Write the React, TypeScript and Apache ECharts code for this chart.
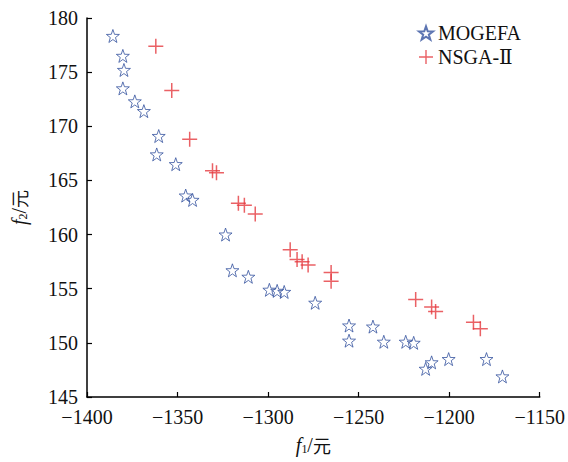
import React, { useEffect, useRef } from "react";
import * as echarts from "echarts";

const xTicks = [-1400, -1350, -1300, -1250, -1200, -1150];
const yTicks = [145, 150, 155, 160, 165, 170, 175, 180];

const mogefa: [number, number][] = [
  [-1385.7, 178.34],
  [-1380.2, 176.5],
  [-1379.6, 175.2],
  [-1380.2, 173.5],
  [-1373.6, 172.3],
  [-1368.6, 171.4],
  [-1360.4, 169.1],
  [-1361.5, 167.4],
  [-1351.0, 166.5],
  [-1345.5, 163.6],
  [-1341.7, 163.2],
  [-1323.5, 160.0],
  [-1319.7, 156.7],
  [-1310.9, 156.1],
  [-1299.3, 154.9],
  [-1295.0, 154.8],
  [-1291.1, 154.7],
  [-1274.0, 153.7],
  [-1255.3, 151.6],
  [-1255.3, 150.2],
  [-1242.1, 151.5],
  [-1236.1, 150.1],
  [-1224.0, 150.1],
  [-1219.6, 150.0],
  [-1209.7, 148.2],
  [-1213.0, 147.6],
  [-1200.3, 148.5],
  [-1179.4, 148.5],
  [-1170.6, 146.9],
];

const nsga: [number, number][] = [
  [-1362.0, 177.4],
  [-1353.2, 173.3],
  [-1343.3, 168.8],
  [-1330.7, 165.9],
  [-1328.5, 165.7],
  [-1316.4, 162.9],
  [-1313.1, 162.7],
  [-1307.1, 161.9],
  [-1287.8, 158.6],
  [-1284.0, 157.7],
  [-1281.2, 157.5],
  [-1277.9, 157.2],
  [-1265.2, 156.5],
  [-1265.2, 155.7],
  [-1218.5, 154.0],
  [-1209.7, 153.3],
  [-1207.5, 152.9],
  [-1186.6, 151.9],
  [-1182.8, 151.3],
];

const STAR =
  "path://M0,-10 L2.35,-3.24 L9.51,-3.09 L3.8,1.24 L5.88,8.09 L0,4 L-5.88,8.09 L-3.8,1.24 L-9.51,-3.09 L-2.35,-3.24 Z";
const PLUS =
  "path://M-1,-10 L1,-10 L1,-1 L10,-1 L10,1 L1,1 L1,10 L-1,10 L-1,1 L-10,1 L-10,-1 L-1,-1 Z";

const SERIF = "'Liberation Serif', 'DejaVu Serif', 'Times New Roman', serif";
const CJK = "'Noto Sans CJK SC', sans-serif";

const fmt = (v: number) => String(v).replace("-", "\u2212");

export default function App() {
  const ref = useRef<HTMLDivElement>(null);
  useEffect(() => {
    if (!ref.current) return;
    const chart = echarts.init(ref.current, undefined, { renderer: "svg" });
    const nameRich = {
      i: { fontFamily: SERIF, fontStyle: "italic", fontSize: 20, color: "#111" },
      s: { fontFamily: SERIF, fontSize: 12, color: "#111", padding: [8, 0, 0, 0] },
      n: { fontFamily: SERIF, fontSize: 20, color: "#111" },
      c: { fontFamily: CJK, fontSize: 18, color: "#111" },
    };
    chart.setOption({
      animation: false,
      backgroundColor: "#fff",
      grid: { left: 87, right: 27, top: 18, bottom: 65, containLabel: false },
      legend: {
        orient: "vertical",
        left: 413,
        top: 18,
        itemWidth: 14,
        itemHeight: 14,
        itemGap: 4,
        textStyle: { fontFamily: SERIF, fontSize: 20, color: "#111" },
        data: ["MOGEFA", "NSGA-\u2161"],
      },
      xAxis: {
        type: "value",
        min: xTicks[0],
        max: xTicks[xTicks.length - 1],
        interval: 50,
        name: "{i|f}{s|1}{n|/}{c|元}",
        nameLocation: "middle",
        nameGap: 38,
        nameTextStyle: { rich: nameRich },
        axisLine: { show: true, onZero: false, lineStyle: { color: "#000", width: 1.5 } },
        axisTick: { show: true, inside: true, length: 5, lineStyle: { color: "#000", width: 1.2 } },
        axisLabel: {
          formatter: fmt,
          fontFamily: SERIF,
          fontSize: 20,
          color: "#111",
          margin: 10,
        },
        splitLine: { show: false },
      },
      yAxis: {
        type: "value",
        min: yTicks[0],
        max: yTicks[yTicks.length - 1],
        interval: 5,
        name: "{i|f}{s|2}{n|/}{c|元}",
        nameLocation: "middle",
        nameGap: 58,
        nameRotate: 90,
        nameTextStyle: { rich: nameRich },
        axisLine: { show: true, onZero: false, lineStyle: { color: "#000", width: 1.5 } },
        axisTick: { show: true, inside: true, length: 5, lineStyle: { color: "#000", width: 1.2 } },
        axisLabel: {
          fontFamily: SERIF,
          fontSize: 20,
          color: "#111",
          margin: 9,
        },
        splitLine: { show: false },
      },
      series: [
        {
          name: "MOGEFA",
          type: "scatter",
          symbol: STAR,
          symbolSize: 13,
          data: mogefa,
          itemStyle: {
            color: "rgba(255,255,255,0)",
            borderColor: "#34539f",
            borderWidth: 1,
          },
        },
        {
          name: "NSGA-\u2161",
          type: "scatter",
          symbol: PLUS,
          symbolSize: 15,
          data: nsga,
          itemStyle: { color: "#e53a3f" },
        },
      ],
    });
    return () => chart.dispose();
  }, []);
  return (
    <div
      ref={ref}
      style={{ position: "absolute", left: 0, top: 0, width: 568, height: 462 }}
    />
  );
}
